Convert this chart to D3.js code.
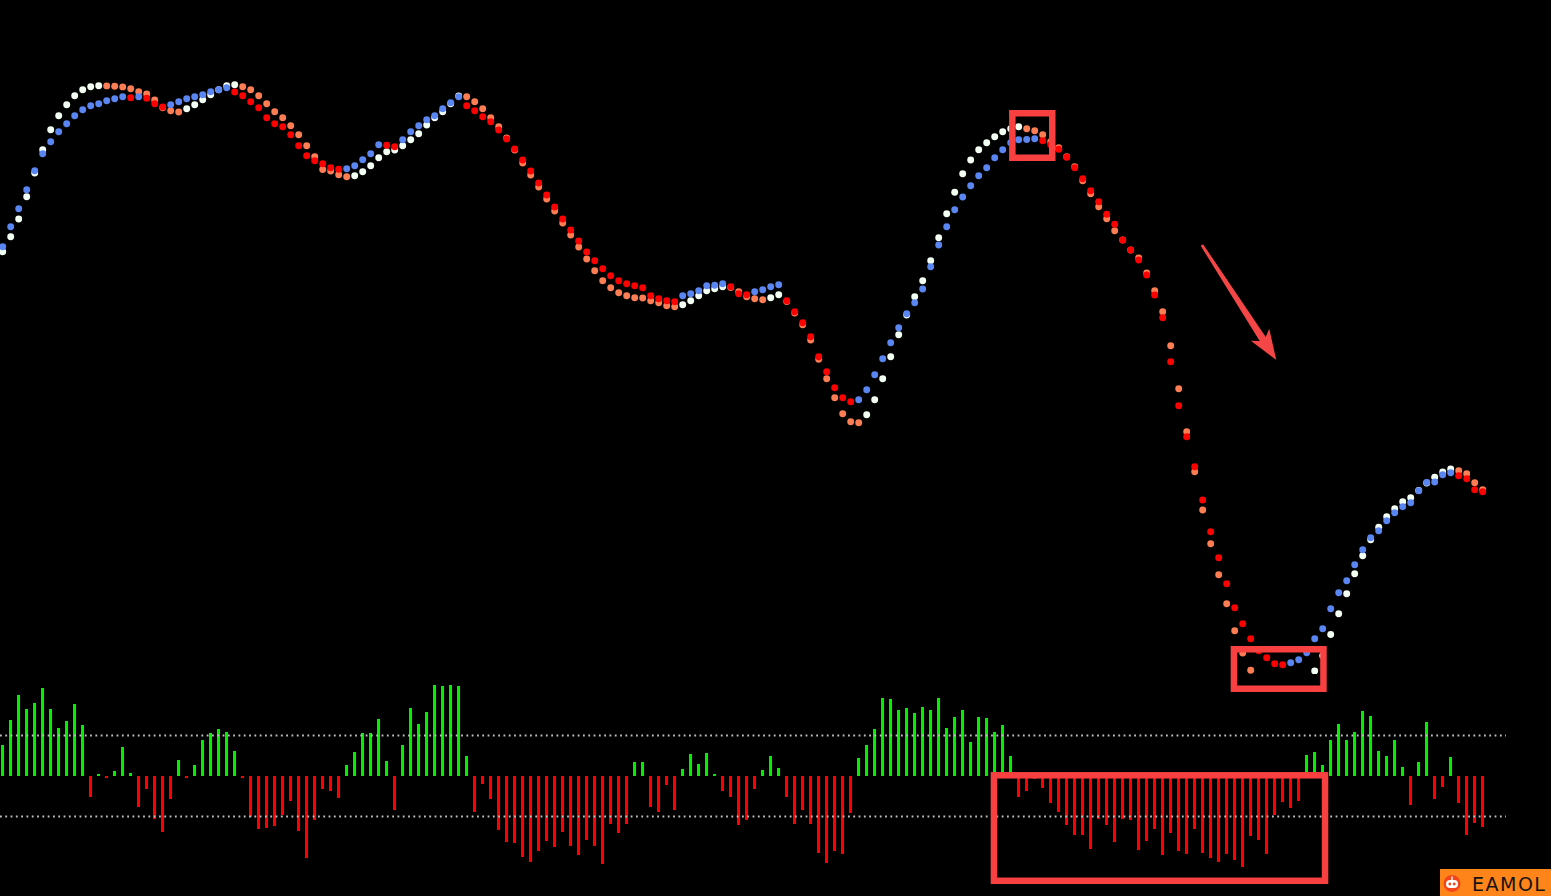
<!DOCTYPE html>
<html><head><meta charset="utf-8">
<script src="https://cdn.jsdelivr.net/npm/d3@7"></script>
<style>html,body{margin:0;padding:0;background:#000;overflow:hidden}svg{display:block}</style>
</head><body><svg id="chart" width="1551" height="896"></svg>
<script>
// ---- data (price-like units, higher = higher on chart) ----
const fastLine = [453.3,473.3,491.3,510.3,529.3,546.3,558.3,568.3,576.3,584.3,
590.3,594.3,596.3,599.3,601.3,603.3,602.3,603.3,601.7,596.3,
593,595.3,598.3,601.3,603.3,605.3,608.3,610.3,612.3,608,
604.3,598.3,592.3,582.3,576.3,573.3,565.3,554.3,544.3,539.3,
536.3,532.3,530.7,531.3,534.3,540.3,546.3,555.3,554.7,553.3,
560.3,568.3,574.3,580.3,584.3,591.3,597.3,603.3,594.3,589.3,
583.3,578.3,570,561,551,540,529,517,505,493,
481,470,459,448,439.3,431.3,424.3,419.3,416.3,414.3,
412.3,404.3,401.3,399.3,398.3,404.3,406.3,409.3,414.3,414.8,
416.3,413.3,406.3,405.3,408.3,410.3,413.3,415.3,399.3,388.3,
377.3,363.3,343.3,328.3,312.3,302.3,298.3,300.3,310.3,325.3,
341.3,357.3,372.3,386.3,397.3,411,433.3,455,473.3,490.3,
503,514.3,524.3,532.3,542.3,550.3,557.3,560.3,560.5,561.3,
559.3,555.3,550.7,542.7,532.3,521.3,509.3,498.3,485.7,475.7,
460,450,440,425,405,382.3,338.3,294.3,263.3,233.3,
200,168.3,142.3,116.3,92.3,76.3,61.3,49.3,42.3,36.3,
35.3,37.3,40.3,47.3,61.3,71.3,91.3,107.3,119.3,135.3,
150.3,162.3,169.3,179.3,187.3,193.3,197.3,209.3,217.5,218,
225.3,227.3,224.3,221.3,210.3,208.3];

const slowLine = [448.3,463.3,481,503.3,527,550.3,570.3,584.3,595.3,604.3,
610.3,613.3,614.3,614.1,613.8,613.1,611.3,608.3,606,600,
592.3,589.3,588,591.3,595.3,600.3,605.3,610.3,614.3,615.3,
613.3,610.3,604.3,596.3,588.3,582.3,574.3,565.3,554.3,543.3,
530.5,529,525.3,523.3,524.3,528.3,534.3,542.3,548.3,550,
554.3,560.3,566.3,575,582.3,588.3,596.3,604,603.3,598.3,
591.3,582.3,573.3,562,550,537,525,513,501,489,
477,465,453,441,429.3,419.3,412.3,407.3,404.3,402.3,
402,399.3,397.3,394.3,393.3,395.3,399.3,404.3,409.3,411.3,
413.3,412.5,408.3,403.3,401.3,400.3,402.3,405.3,398.5,387,
375.3,360,340.7,321.3,302.3,286.3,278.3,277.3,285.3,300.3,
321.3,343.3,365.3,385,403.3,419.3,439.3,462.3,486.3,507.7,
526.3,540,550.3,557.3,563.3,568.3,571.3,573.3,571.3,569.3,
565.3,558.3,552.3,543.3,533.3,519.3,506.3,493.3,481.3,469.3,
460,450,442,427,409.3,388.3,354.3,311.3,268.3,228.3,
190,156.3,125.3,96.3,69.3,47,29.7,16,8,3,
2,5,11,19,29,44.3,65.5,86.3,106.3,126.3,
144.3,160.3,172.7,183.3,191.3,198.3,202.3,209.5,217,222.7,
228,231,229.3,226.3,217.3,210.3];

const histogram = [31,55,80,66,72,87,66,47,54,71,
50,-21,1.7,-2,5,29,2.7,-31,-13,-42,
-55,-23,16,-1.7,10.7,36,42.7,46,43,25,
-1.3,-40.7,-52.7,-51.3,-49.3,-38.7,-24.7,-54.7,-80.7,-43.3,
-12.7,-15.3,-21.3,10.7,24,42.7,42.7,56.7,15,-33.3,
31,66.7,51,63.7,90,88.7,90,88.7,19.7,-35.3,
-7.5,-22.3,-53.2,-65,-66,-80,-85,-74,-64,-70,
-55,-69,-78,-63,-69,-87,-47,-56,-47,14,
14,-31,-36,-9,-34,6.7,22,11.7,23,2.3,
-15,-21,-48,-43,-12.7,5.7,20,7.7,-21,-47,
-34,-47,-76,-86,-74,-77,-37,18,31,46,
77,76,65,67,62,68,65,77,47,58,
65,34,58,57,43,50,20,-20.5,-14.5,-3.3,
-11.6,-26.4,-35.4,-48,-58,-58,-72,-42,-48,-65,
-42,-43,-73,-64,-52,-78,-56,-74,-77,-52,
-76,-81,-85,-77,-83,-90,-59,-63,-77,-39,
-26,-32,-25,20.5,24,10.6,36,51,36,43.6,
64,59,24.4,19.5,36,8.6,-29,14,53,-23,
-10.6,18.5,-26.4,-58,-46,-50];

const levels = [40, -40];

// annotations in data space: [index from, index to, value top, value bottom]
const priceBoxes = [[125.8, 131.6, 590, 539], [153.5, 165.5, 54, 8]];
const histBoxes = [[123.5, 165.7, 3.9, -106.7]];
const arrow = {from: [149.9, 455], to: [159.2, 340]};

// ---- drawing ----
const W = 1551, H = 896;
const svg = d3.select("#chart");
svg.append("rect").attr("width", W).attr("height", H).attr("fill", "#000");

const n = fastLine.length;
const x = d3.scaleLinear().domain([0, n - 1]).range([2.7, 1482.7]);
const y = d3.scaleLinear().domain([0, 700]).range([700, 0]);
const yH = d3.scaleLinear().domain([-40, 40]).range([816.5, 735.5]);

svg.append("defs").append("clipPath").attr("id", "mainClip")
  .append("rect").attr("x", 0).attr("y", 0).attr("width", W).attr("height", 674);

const main = svg.append("g").attr("clip-path", "url(#mainClip)");

function rising(arr, i) {
  if (i === 0) return arr[1] > arr[0];
  return arr[i] > arr[i - 1];
}

const R = 3.45;
// slow line: white (up) / coral (down)
main.append("g").selectAll("circle").data(slowLine).join("circle")
  .attr("cx", (d, i) => x(i)).attr("cy", d => y(d)).attr("r", R)
  .attr("fill", (d, i) => rising(slowLine, i) ? "#f4fff4" : "#ff7d52");

// fast line: blue (up) / red (down)
main.append("g").selectAll("circle").data(fastLine).join("circle")
  .attr("cx", (d, i) => x(i)).attr("cy", d => y(d)).attr("r", R)
  .attr("fill", (d, i) => rising(fastLine, i) ? "#5a86f4" : "#ff0000");

// histogram
svg.append("g").attr("shape-rendering", "crispEdges")
  .selectAll("rect").data(histogram).join("rect")
  .attr("x", (d, i) => x(i) - 1.5).attr("width", 3)
  .attr("y", d => Math.min(yH(0), yH(d)))
  .attr("height", d => Math.max(2, Math.abs(yH(d) - yH(0))))
  .attr("fill", d => d >= 0 ? "#00f000" : "#ff0000");

// level lines
svg.append("g").selectAll("line").data(levels).join("line")
  .attr("x1", 0).attr("x2", 1506)
  .attr("y1", d => yH(d)).attr("y2", d => yH(d))
  .attr("stroke", "#c0c0c0").attr("stroke-width", 1.8)
  .attr("stroke-dasharray", "1.8,3.5");

// annotation boxes
const boxColor = "#f84040", sw = 6.5;
function drawBox(b, ys) {
  const x0 = x(b[0]), x1 = x(b[1]), y0 = ys(b[2]), y1 = ys(b[3]);
  svg.append("rect")
    .attr("x", x0 + sw / 2).attr("y", y0 + sw / 2)
    .attr("width", x1 - x0 - sw).attr("height", y1 - y0 - sw)
    .attr("fill", "none").attr("stroke", boxColor).attr("stroke-width", sw);
}
priceBoxes.forEach(b => drawBox(b, y));
histBoxes.forEach(b => drawBox(b, yH));

// arrow
(function () {
  const S = [x(arrow.from[0]), y(arrow.from[1])];
  const T = [x(arrow.to[0]), y(arrow.to[1])];
  const dx = T[0] - S[0], dy = T[1] - S[1], L = Math.hypot(dx, dy);
  const u = [dx / L, dy / L], nn = [-u[1], u[0]];
  const headLen = 25, notch = 5, headHalf = 11, w0 = 1.4, w1 = 3.6;
  const B = [T[0] - headLen * u[0], T[1] - headLen * u[1]];
  const Bb = [T[0] - (headLen + notch) * u[0], T[1] - (headLen + notch) * u[1]];
  const p = (P, k) => [P[0] + nn[0] * k, P[1] + nn[1] * k];
  const pts = [p(S, w0), p(B, w1), p(Bb, headHalf), T, p(Bb, -headHalf), p(B, -w1), p(S, -w0)];
  svg.append("polygon").attr("points", pts.map(q => q.join(",")).join(" "))
    .attr("fill", "#f44646");
})();

// logo
const logo = svg.append("g").attr("transform", "translate(1440,869)");
logo.append("rect").attr("width", 111).attr("height", 27).attr("fill", "#ff8419");
logo.append("circle").attr("cx", 12).attr("cy", 14.5).attr("r", 8.5).attr("fill", "#f2461a");
logo.append("rect").attr("x", 6).attr("y", 11).attr("width", 12).attr("height", 8).attr("rx", 4).attr("fill", "#fff");
logo.append("circle").attr("cx", 9.8).attr("cy", 15).attr("r", 1.4).attr("fill", "#f2461a");
logo.append("circle").attr("cx", 14.2).attr("cy", 15).attr("r", 1.4).attr("fill", "#f2461a");
logo.append("rect").attr("x", 11.3).attr("y", 7.5).attr("width", 1.4).attr("height", 3.5).attr("fill", "#fff");
logo.append("text").attr("x", 32).attr("y", 22).text("EAMOL")
  .attr("font-family", "DejaVu Sans, Arial, sans-serif").attr("font-size", 19)
  .attr("letter-spacing", 1.5).attr("fill", "#141414");
</script>
</body></html>
